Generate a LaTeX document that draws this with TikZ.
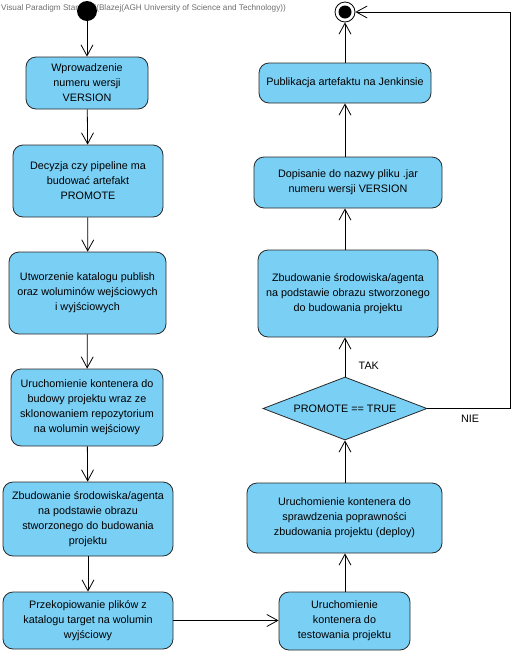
\documentclass[tikz,border=0pt]{standalone}
\usepackage{fontspec}
\setmainfont{Liberation Sans}
\usepackage{tikz}
\usetikzlibrary{arrows.meta,positioning,shapes.geometric,calc}
\usepackage{xcolor}
\definecolor{cAct}{RGB}{122,207,245}
\definecolor{cLine}{RGB}{40,40,40}
\definecolor{cMark}{RGB}{110,110,110}

\begin{document}
\begin{tikzpicture}[x=1pt, y=-1pt,
  act/.style={draw=cLine, fill=cAct, rounded corners=10pt, align=center,
    inner sep=2pt, font=\fontsize{10.8}{15}\selectfont, line width=0.8pt},
  decision/.style={draw=cLine, fill=cAct, diamond, aspect=2.6, inner sep=0pt,
    font=\fontsize{10.8}{15}\selectfont, line width=0.8pt},
  flow/.style={draw=black, line width=0.8pt, -{Straight Barb[length=11pt,width=12pt]}},
  lbl/.style={font=\fontsize{10.8}{12}\selectfont}]
  \useasboundingbox (0,0) rectangle (514,654);
  % watermark
  \node[font=\fontsize{8.2}{9}\selectfont, text=cMark, anchor=west, inner sep=0pt] (mark) at (1,8)
    {Visual Paradigm Standard(Blazej(AGH University of Science and Technology))};
  % left column
  \node[circle, fill=black, minimum size=20pt, inner sep=0pt] (start) at (87,11) {};
  \node[act, minimum width=122pt, minimum height=52pt] (wersja) at (87,83)
    {Wprowadzenie\\numeru wersji\\VERSION};
  \node[act, minimum width=150pt, minimum height=72pt] (decyzja) at (88,181)
    {Decyzja czy pipeline ma\\budować artefakt\\PROMOTE};
  \node[act, minimum width=157pt, minimum height=82pt] (katalog) at (87.5,293)
    {Utworzenie katalogu publish\\oraz woluminów wejściowych\\i wyjściowych};
  \node[act, minimum width=152pt, minimum height=77pt] (budowa) at (87,407.5)
    {Uruchomienie kontenera do\\budowy projektu wraz ze\\sklonowaniem repozytorium\\na wolumin wejściowy};
  \node[act, minimum width=170pt, minimum height=74pt] (agent) at (88,519)
    {Zbudowanie środowiska/agenta\\na podstawie obrazu\\stworzonego do budowania\\projektu};
  \node[act, minimum width=170pt, minimum height=57pt] (kopia) at (88,620.5)
    {Przekopiowanie plików z\\katalogu target na wolumin\\wyjściowy};
  % right column
  \node[act, minimum width=131pt, minimum height=58pt] (testy) at (344.5,621)
    {Uruchomienie\\kontenera do\\testowania projektu};
  \node[act, minimum width=195pt, minimum height=70pt] (deploy) at (344.5,518)
    {Uruchomienie kontenera do\\sprawdzenia poprawności\\zbudowania projektu (deploy)};
  \node[decision, minimum width=164pt, minimum height=63pt] (promote) at (345,408.5)
    {PROMOTE == TRUE};
  \node[act, minimum width=180pt, minimum height=87pt] (agent2) at (348,293.5)
    {Zbudowanie środowiska/agenta\\na podstawie obrazu stworzonego\\do budowania projektu};
  \node[act, minimum width=188pt, minimum height=51pt] (jar) at (348,182.5)
    {Dopisanie do nazwy pliku .jar\\numeru wersji VERSION};
  \node[act, minimum width=172pt, minimum height=40pt] (jenkins) at (345,83)
    {Publikacja artefaktu na Jenkinsie};
  \node[circle, draw=black, fill=white, line width=0.8pt, minimum size=20pt, inner sep=0pt] (koniec) at (345,12) {};
  \fill[black] (koniec.center) circle (6.5pt);
  % flows
  \draw[flow] (start) -- (wersja);
  \draw[flow] (wersja) -- (decyzja);
  \draw[flow] (decyzja) -- (katalog);
  \draw[flow] (katalog) -- (budowa);
  \draw[flow] (budowa) -- (agent);
  \draw[flow] (agent) -- (kopia);
  \draw[flow] (kopia.east) -- (kopia.east -| testy.west);
  \draw[flow] (testy.north -| promote.south) -- (promote.south |- deploy.south);
  \draw[flow] (promote.south |- deploy.north) -- (promote.south);
  \draw[flow] (promote.north) -- (promote.north |- agent2.south)
    node[lbl, pos=0.27, right=10pt] (tak) {TAK};
  \draw[flow] (promote.north |- agent2.north) -- (promote.north |- jar.south);
  \draw[flow] (promote.north |- jar.north) -- (promote.north |- jenkins.south);
  \draw[flow] (jenkins) -- (koniec);
  \draw[flow] (promote.east) -- (510,408.5) |- (koniec.east);
  \node[lbl] (nie) at (470,419) {NIE};
\end{tikzpicture}
\end{document}
